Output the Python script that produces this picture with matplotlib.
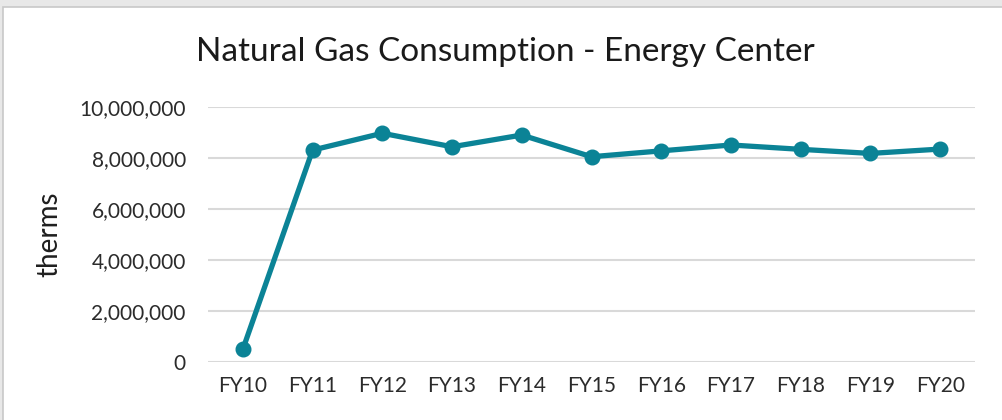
import matplotlib.pyplot as plt
from matplotlib.patches import Rectangle
from matplotlib.ticker import FuncFormatter

years = ['FY10', 'FY11', 'FY12', 'FY13', 'FY14', 'FY15',
         'FY16', 'FY17', 'FY18', 'FY19', 'FY20']
therms = [500000, 8300000, 8960000, 8430000, 8890000, 8040000,
          8270000, 8500000, 8330000, 8170000, 8340000]
yTicks = [0, 2000000, 4000000, 6000000, 8000000, 10000000]

plt.rcParams['font.family'] = ['Lato', 'DejaVu Sans']

fig = plt.figure(figsize=(10.02, 4.2), dpi=100)
fig.patch.set_facecolor('#e8e8e8')
# white chart area with a thin grey border
fig.patches.append(Rectangle((3 / 1002, -0.05), 1.1, 1.05 - 7 / 420,
                             transform=fig.transFigure, facecolor='white',
                             edgecolor='#c8c8c8', linewidth=1.2, zorder=-5))

ax = fig.add_axes([208 / 1002, 1 - 362 / 420, 767 / 1002, (362 - 106.7) / 420])
ax.set_zorder(2)
ax.set_facecolor('none')
xs = list(range(len(years)))
ax.plot(xs, therms, color='#0b8396', linewidth=3.8, marker='o',
        markersize=10.5, solid_capstyle='round', zorder=3, clip_on=False)

ax.set_xlim(-0.5, len(years) - 0.5)
ax.set_ylim(0, 10000000)
ax.set_yticks(yTicks)
ax.yaxis.set_major_formatter(FuncFormatter(lambda v, p: f'{int(v):,}'))
ax.set_xticks(xs)
ax.set_xticklabels(years)
ax.grid(axis='y', color='#d9d9d9', linewidth=1.5)
ax.set_axisbelow(True)
for s in ax.spines.values():
    s.set_visible(False)
ax.tick_params(axis='both', length=0, labelsize=15, colors='#2b2b2b')
ax.tick_params(axis='y', pad=16)
ax.tick_params(axis='x', pad=10)
ax.set_ylabel('therms', fontsize=20, color='#1f1f1f', labelpad=12)

fig.text(505 / 1002, 1 - 52 / 420, 'Natural Gas Consumption - Energy Center',
         ha='center', va='center', fontsize=24, color='#1a1a1a', zorder=5)

fig.savefig('out.png', dpi=100, facecolor=fig.get_facecolor())
